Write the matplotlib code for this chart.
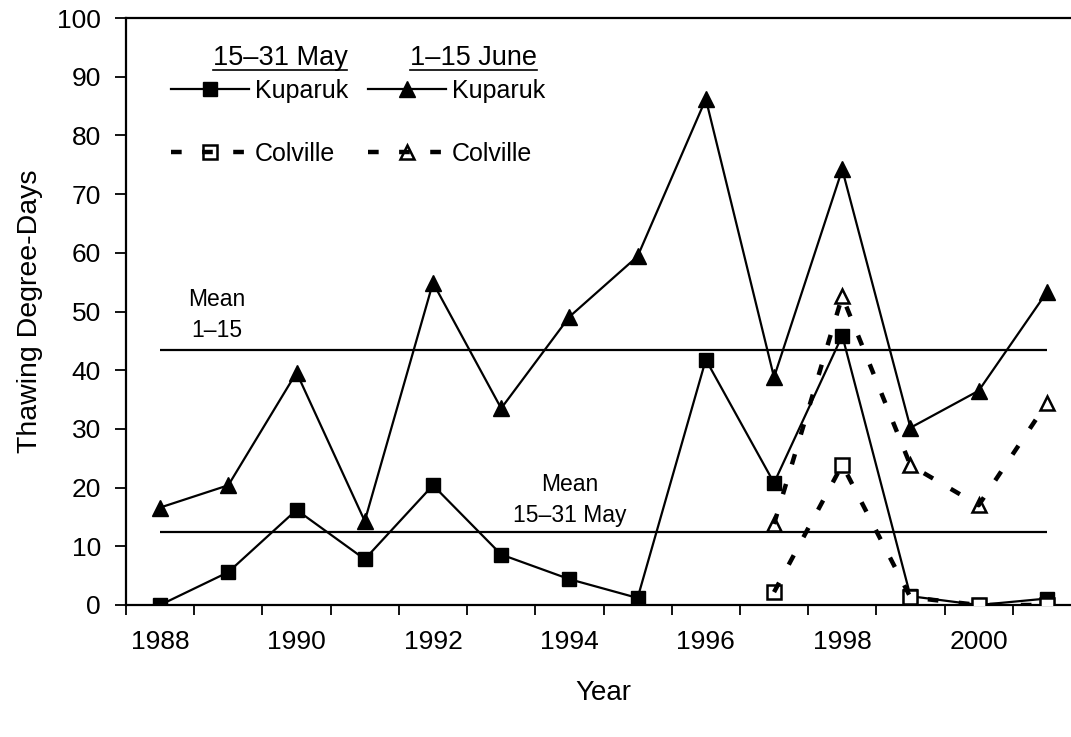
import matplotlib
matplotlib.use("Agg")
import matplotlib.pyplot as plt
from matplotlib.lines import Line2D
from matplotlib.legend_handler import HandlerTuple
import numpy as np

plt.rcParams["font.family"] = ["Liberation Sans", "DejaVu Sans"]

# data
years = np.arange(1988, 2002)
kup_may = [0, 5.6, 16.2, 7.8, 20.4, 8.6, 4.4, 1.2, 41.8, 20.8, 45.9, 1.5, 0, 1.1]
kup_june = [16.6, 20.4, 39.6, 14.3, 54.9, 33.5, 49.1, 59.4, 86.2, 38.8, 74.2, 30.2, 36.5, 53.3]
col_years = np.arange(1997, 2002)
col_may = [2.2, 23.9, 1.3, 0, 0]
col_june = [13.8, 52.6, 23.8, 17.0, 34.4]
mean_june = 43.4
mean_may = 12.5

W, H = 1071, 737
fig = plt.figure(figsize=(W / 100, H / 100), dpi=100)
ax = fig.add_axes([126 / W, 132 / H, (1081 - 126) / W, (605 - 18) / H])

# mean lines
ax.hlines([mean_june, mean_may], years[0], years[-1], color="black", lw=1.6, zorder=2)

# Kuparuk
l_km, = ax.plot(years, kup_may, color="black", lw=1.6, marker="s", ms=10.5,
                mfc="black", mec="black", zorder=3)
l_kj, = ax.plot(years, kup_june, color="black", lw=1.6, marker="^", ms=11,
                mfc="black", mec="black", zorder=3)

# Colville: open markers, thick dashed line drawn on top
dash = (0, (2.4, 4.6))
m_cm, = ax.plot(col_years, col_may, ls="none", marker="s", ms=10, mfc="white",
                mec="black", mew=1.8, zorder=4)
d_cm, = ax.plot(col_years, col_may, color="black", lw=3.2, ls=dash, zorder=5)
m_cj, = ax.plot(col_years, col_june, ls="none", marker="^", ms=10.5, mfc="white",
                mec="black", mew=1.8, zorder=4)
d_cj, = ax.plot(col_years, col_june, color="black", lw=3.2, ls=dash, zorder=5)

ax.set_xlim(1987.5, 2001.5)
ax.set_ylim(0, 100)
ax.set_yticks(np.arange(0, 101, 10))
ax.set_xticks(np.arange(1988, 2001, 2))
ax.set_xticks(np.arange(1987.5, 2002, 1), minor=True)
ax.tick_params(axis="x", which="major", length=0, pad=18, labelsize=19)
ax.tick_params(axis="x", which="minor", length=7, width=1.3, direction="out")
ax.tick_params(axis="y", length=8, width=1.3, direction="out", pad=10, labelsize=19)
for s in ax.spines.values():
    s.set_linewidth(1.6)

ax.set_xlabel("Year", fontsize=20, labelpad=19)
ax.set_ylabel("Thawing Degree-Days", fontsize=20.5, labelpad=10)

# mean labels
ax.text(217 / W, 1 - 315 / H, "Mean\n1\u201315", transform=fig.transFigure,
        ha="center", va="center", fontsize=16.5, linespacing=1.4)
ax.text(570 / W, 1 - 500 / H, "Mean\n15\u201331 May", transform=fig.transFigure,
        ha="center", va="center", fontsize=16.5, linespacing=1.4)

# legend
leg = ax.legend([l_km, (m_cm, d_cm), l_kj, (m_cj, d_cj)],
                ["Kuparuk", "Colville", "Kuparuk", "Colville"],
                handler_map={tuple: HandlerTuple(ndivide=1, pad=0)},
                ncol=2, frameon=False, fontsize=18, numpoints=1,
                handlelength=3.1, handletextpad=0.25, columnspacing=0.8,
                labelspacing=1.55, borderpad=0, borderaxespad=0,
                loc="upper left", bbox_to_anchor=(171 / W, 1 - 79 / H),
                bbox_transform=fig.transFigure)

# column headers, underlined
h1 = fig.text(280 / W, 1 - 65 / H, "15\u201331 May", ha="center", va="baseline", fontsize=19.5)
h2 = fig.text(473 / W, 1 - 65 / H, "1\u201315 June", ha="center", va="baseline", fontsize=19.5)
fig.canvas.draw()
for h in (h1, h2):
    bb = h.get_window_extent()
    yline = (bb.y0 + 1) / H
    fig.add_artist(Line2D([bb.x0 / W, bb.x1 / W], [yline, yline],
                          transform=fig.transFigure, color="black", lw=1.2))

fig.savefig("out.png", dpi=100)
